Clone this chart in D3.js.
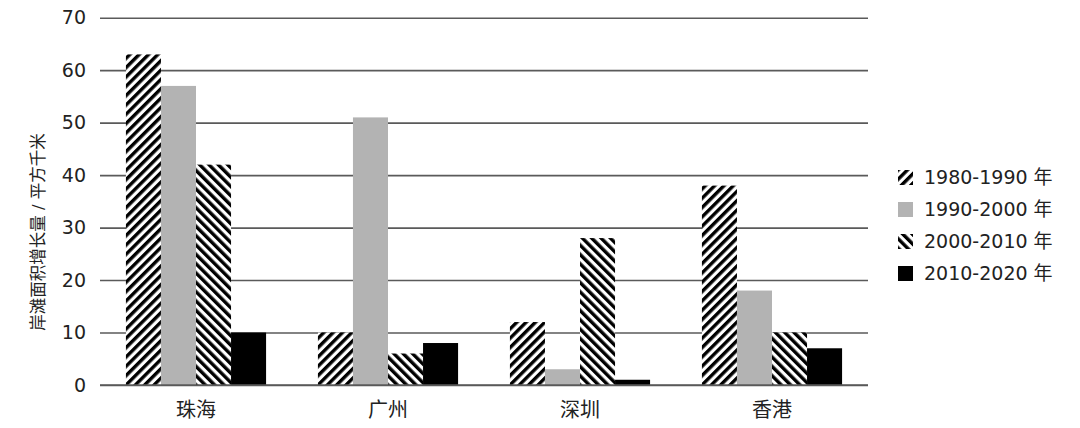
<!DOCTYPE html>
<html>
<head>
<meta charset="utf-8">
<script src="https://cdn.jsdelivr.net/npm/d3@7"></script>
<style>
  html, body { margin: 0; padding: 0; background: #fff; }
  svg { display: block; font-family: "DejaVu Sans", "Noto Sans CJK SC", sans-serif; }
</style>
</head>
<body>
<svg id="chart" width="1080" height="428"></svg>
<script>
// data
const cities = ['珠海', '广州', '深圳', '香港'];
const periods = ['1980-1990 年', '1990-2000 年', '2000-2010 年', '2010-2020 年'];
const v1980 = [63, 10, 12, 38];
const v1990 = [57, 51, 3, 18];
const v2000 = [42, 6, 28, 10];
const v2010 = [10, 8, 1, 7];
const yTicks = [0, 10, 20, 30, 40, 50, 60, 70];

const seriesValues = [v1980, v1990, v2000, v2010];
const fills = ['url(#hatchFwd)', '#b3b3b3', 'url(#hatchBack)', '#000'];

const svg = d3.select('#chart');
const defs = svg.append('defs');

function hatch(id, angle) {
  const p = defs.append('pattern')
    .attr('id', id)
    .attr('patternUnits', 'userSpaceOnUse')
    .attr('width', 6.6)
    .attr('height', 6.6)
    .attr('patternTransform', `rotate(${angle})`);
  p.append('rect').attr('width', 6.6).attr('height', 6.6).attr('fill', '#fff');
  p.append('rect').attr('width', 3.4).attr('height', 6.6).attr('fill', '#000');
}
hatch('hatchFwd', 45);
hatch('hatchBack', -45);

const x = d3.scaleBand().domain(cities).range([100, 868])
  .paddingInner(0.27).paddingOuter(0.135);
const xs = d3.scaleBand().domain(d3.range(periods.length)).range([0, x.bandwidth()]);
const y = d3.scaleLinear().domain([0, 70]).range([385, 17.7]);

// grid + tick labels
const yAxis = svg.append('g')
  .attr('transform', 'translate(100,0)')
  .call(d3.axisLeft(y).tickValues(yTicks).tickSize(-768).tickPadding(14));
yAxis.select('.domain').remove();
yAxis.selectAll('.tick line').attr('stroke', '#5a5a5a').attr('stroke-width', 1.6);
yAxis.selectAll('.tick text')
  .attr('font-size', 19).attr('fill', '#222')
  .attr('font-family', '"DejaVu Sans", sans-serif');

// bars
const groups = svg.append('g').selectAll('g')
  .data(cities)
  .join('g')
  .attr('transform', d => `translate(${x(d)},0)`);

groups.selectAll('rect')
  .data((c, ci) => seriesValues.map((vals, si) => ({ si, v: vals[ci] })))
  .join('rect')
  .attr('x', d => xs(d.si))
  .attr('width', xs.bandwidth())
  .attr('y', d => y(d.v))
  .attr('height', d => y(0) - y(d.v))
  .attr('fill', d => fills[d.si]);

// baseline redrawn over bars
svg.append('line')
  .attr('x1', 100).attr('x2', 868)
  .attr('y1', y(0)).attr('y2', y(0))
  .attr('stroke', '#5a5a5a').attr('stroke-width', 1.6);

// category labels
svg.append('g').selectAll('text')
  .data(cities)
  .join('text')
  .attr('x', d => x(d) + x.bandwidth() / 2)
  .attr('y', 417)
  .attr('text-anchor', 'middle')
  .attr('font-size', 20)
  .attr('fill', '#222')
  .text(d => d);

// y title
svg.append('text')
  .attr('transform', 'translate(44,232) rotate(-90)')
  .attr('text-anchor', 'middle')
  .attr('font-size', 16.5)
  .attr('fill', '#222')
  .text('岸滩面积增长量 / 平方千米');

// legend
const legend = svg.append('g').selectAll('g')
  .data(periods)
  .join('g')
  .attr('transform', (d, i) => `translate(898,${177 + i * 32})`);

legend.append('rect')
  .attr('y', -7)
  .attr('width', 15).attr('height', 15)
  .attr('fill', (d, i) => fills[i]);

legend.append('text')
  .attr('x', 26)
  .attr('y', 7)
  .attr('font-size', 19)
  .attr('fill', '#222')
  .text(d => d);
</script>
</body>
</html>
